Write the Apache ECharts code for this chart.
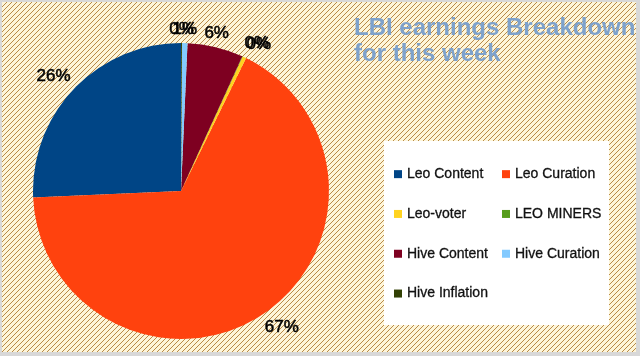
<!DOCTYPE html>
<html>
<head>
<meta charset="utf-8">
<script src="https://cdn.jsdelivr.net/npm/echarts@6/dist/echarts.min.js"></script>
<style>
html,body{margin:0;padding:0;background:#fff;}
#wrap{position:relative;width:640px;height:356px;background:#d8d8d8;overflow:hidden;}
#bg{position:absolute;left:2px;top:2px;width:634px;height:350px;}
#chart{position:absolute;left:0;top:0;width:640px;height:356px;}
</style>
</head>
<body>
<div id="wrap"><div id="bg"></div><div id="chart"></div></div>
<script>
// ---- data ----
const categories = ['Leo Content', 'Leo Curation', 'Leo-voter', 'LEO MINERS', 'Hive Content', 'Hive Curation', 'Hive Inflation'];
const values = [25.7, 67.1, 0.4, 0.05, 6.1, 0.6, 0.1];
const colors = ['#004586', '#ff420e', '#ffd320', '#579d1c', '#7e0021', '#83caff', '#314004'];
const legendLeftColumn = ['Leo Content', 'Leo-voter', 'Hive Content', 'Hive Inflation'];
const legendRightColumn = ['Leo Curation', 'LEO MINERS', 'Hive Curation'];
const titleText = 'LBI earnings Breakdown\nfor this week';

// ---- hatched background tile ----
(function () {
  const c = document.createElement('canvas');
  c.width = 5; c.height = 5;
  const g = c.getContext('2d');
  g.fillStyle = '#fdf5d9';
  g.fillRect(0, 0, 5, 5);
  g.fillStyle = '#b98a46';
  for (let i = 0; i < 5; i++) g.fillRect(i, 4 - i, 1, 1);
  document.getElementById('bg').style.backgroundImage = 'url(' + c.toDataURL() + ')';
})();

const FONT = 'Liberation Sans, Arial, sans-serif';
const chart = echarts.init(document.getElementById('chart'), null, {renderer: 'canvas'});

const legendCommon = {
  orient: 'vertical',
  top: 167,
  padding: 0,
  itemWidth: 8,
  itemHeight: 8,
  itemGap: 25.5,
  icon: 'rect',
  selectedMode: false,
  textStyle: {fontSize: 14, fontFamily: FONT, color: '#111', lineHeight: 14,
              textBorderColor: '#111', textBorderWidth: 0.3}
};

// label alignment by compass direction (right, upper-right, top, upper-left, left, lower-left, bottom, lower-right)
const ALIGNS = [['left', 'middle'], ['left', 'bottom'], ['center', 'bottom'], ['right', 'bottom'],
                ['right', 'middle'], ['right', 'top'], ['center', 'top'], ['left', 'top']];

chart.setOption({
  animation: false,
  backgroundColor: 'transparent',
  title: {
    text: titleText,
    left: 354,
    top: 15,
    padding: 0,
    textStyle: {fontSize: 24, fontWeight: 'bold', fontFamily: FONT, color: '#7ea2cc', lineHeight: 26.5}
  },
  graphic: {
    elements: [{
      type: 'rect', left: 384, top: 141, silent: true, z: 0,
      shape: {width: 225, height: 184},
      style: {fill: '#ffffff'}
    }]
  },
  legend: [
    Object.assign({}, legendCommon, {left: 394, data: legendLeftColumn}),
    Object.assign({}, legendCommon, {left: 502, data: legendRightColumn})
  ],
  color: colors,
  series: [{
    type: 'pie',
    center: [181, 191],
    radius: 148,
    startAngle: 90,
    clockwise: false,
    avoidLabelOverlap: false,
    itemStyle: {borderWidth: 0},
    label: {
      show: true,
      position: 'outside',
      fontSize: 17,
      fontFamily: FONT,
      color: '#000',
      textBorderColor: '#000',
      textBorderWidth: 0.5,
      formatter: function (p) { return Math.round(p.percent) + '%'; }
    },
    labelLine: {show: true, length: 10, length2: 0, lineStyle: {width: 0, opacity: 0}},
    labelLayout: function (p) {
      const pts = p.labelLinePoints;
      if (!pts || pts.length < 2) return {};
      const dx = pts[1][0] - pts[0][0], dy = pts[1][1] - pts[0][1];
      const len = Math.hypot(dx, dy) || 1;
      const ux = dx / len, uy = dy / len;
      const ang = Math.atan2(-uy, ux) * 180 / Math.PI;
      const bin = ((Math.round(ang / 45) % 8) + 8) % 8;
      const gap = 5;
      return {
        x: pts[0][0] + ux * gap,
        y: pts[0][1] + uy * gap,
        align: ALIGNS[bin][0],
        verticalAlign: ALIGNS[bin][1]
      };
    },
    emphasis: {disabled: true},
    data: categories.map(function (name, i) { return {name: name, value: values[i]}; })
  }]
});
</script>
</body>
</html>
